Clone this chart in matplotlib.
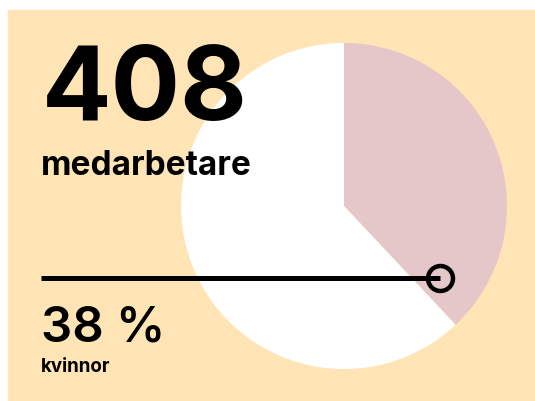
import matplotlib
matplotlib.use("Agg")
import matplotlib.pyplot as plt

# data
shares = [38, 62]          # kvinnor, övriga
slice_colors = ["#e6c7c9", "#ffffff"]
headline = "408"
headline_label = "medarbetare"
share_text = "38 %"
share_label = "kvinnor"

W, H = 535, 401
BG = "#ffe4b5"

fig = plt.figure(figsize=(W / 100, H / 100), dpi=100)
fig.patch.set_facecolor("white")
ax = fig.add_axes([0, 0, 1, 1])

# peach panel
ax.add_patch(plt.Rectangle((8, 0), W - 8, H - 10, color=BG, zorder=0))

ax.pie(shares, colors=slice_colors, startangle=90, counterclock=False,
       center=(344, H - 206), radius=163, frame=True,
       wedgeprops={"linewidth": 0})
ax.set_xlim(0, W)
ax.set_ylim(0, H)
ax.set_aspect("auto")
ax.axis("off")

# line with ring at the end
ax.plot([41, 440], [H - 278, H - 278], color="black", lw=3.6,
        solid_capstyle="butt", zorder=3)
ax.plot([440], [H - 278], marker="o", ms=18, mfc="none", mec="black",
        mew=3.2, zorder=4)

font = "Inter"
renderer = fig.canvas.get_renderer()


def fit_text(x, y, s, width, weight, size):
    t = ax.text(x, y, s, fontsize=size, fontweight=weight, family=font,
                va="baseline", ha="left", color="black", zorder=5)
    w = t.get_window_extent(renderer).width
    t.set_fontsize(size * width / w)
    return t


fit_text(42, H - 120, headline, 206, "bold", 60)
fit_text(41, H - 175, headline_label, 211, "bold", 24)
fit_text(41, H - 341, share_text, 124, "semibold", 36)
fit_text(41, H - 372, share_label, 70, "bold", 13)

fig.savefig("out.png", dpi=100, facecolor="white")
